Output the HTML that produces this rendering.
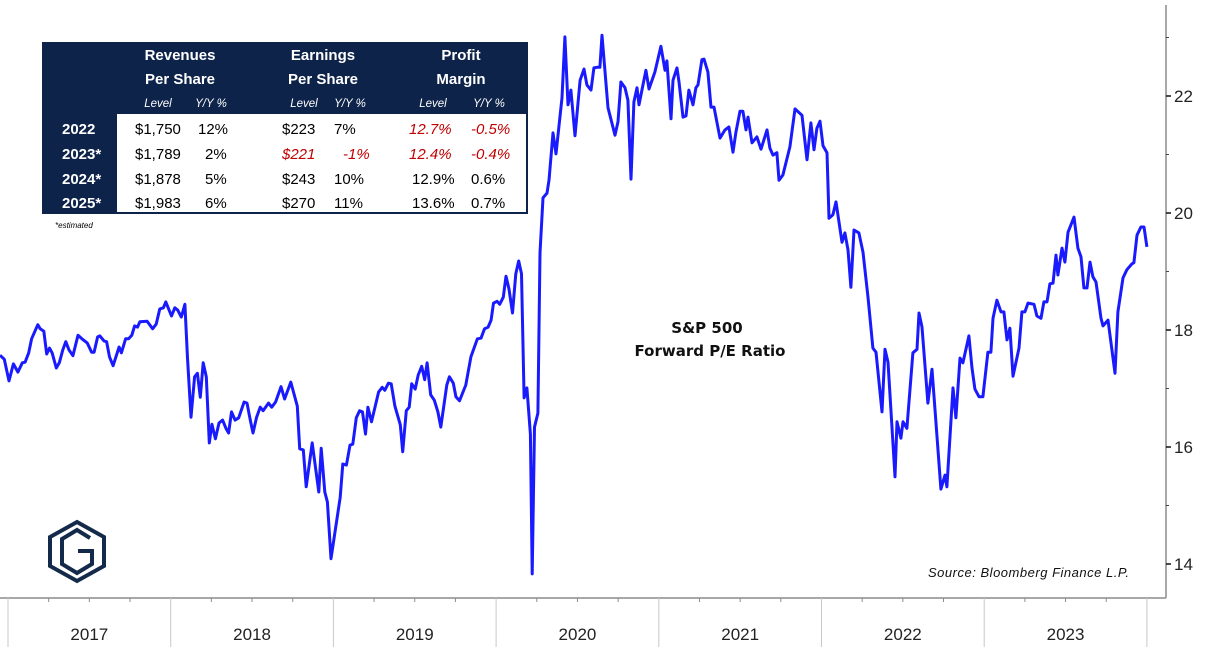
<!DOCTYPE html>
<html><head><meta charset="utf-8">
<style>
body{margin:0;background:#fff;}
svg{display:block;}
.tb{font-family:"Liberation Sans",Arial,sans-serif;}
</style></head>
<body>
<svg id="chart" width="1208" height="647" viewBox="0 0 1208 647" xmlns="http://www.w3.org/2000/svg">
  <rect width="1208" height="647" fill="#fff"/>
  <g id="axes"></g>
  <g id="series"></g>

  <!-- table -->
  <g class="tb">
    <rect x="42" y="42" width="486" height="172" fill="#0d2349"/>
    <rect x="117" y="114" width="409" height="98" fill="#fff"/>
    <g fill="#fff" font-weight="bold" font-size="15" text-anchor="middle">
      <text x="180" y="60">Revenues</text>
      <text x="180" y="84">Per Share</text>
      <text x="323" y="60">Earnings</text>
      <text x="323" y="84">Per Share</text>
      <text x="461" y="60">Profit</text>
      <text x="461" y="84">Margin</text>
    </g>
    <g fill="#fff" font-style="italic" font-size="11.5" text-anchor="middle">
      <text x="158" y="107">Level</text><text x="211" y="107">Y/Y %</text>
      <text x="304" y="107">Level</text><text x="350" y="107">Y/Y %</text>
      <text x="433" y="107">Level</text><text x="489" y="107">Y/Y %</text>
    </g>
    <g fill="#fff" font-weight="bold" font-size="15">
      <text x="62" y="134">2022</text>
      <text x="62" y="159">2023*</text>
      <text x="62" y="184">2024*</text>
      <text x="62" y="208">2025*</text>
    </g>
    <g font-size="15" fill="#000">
      <text x="135" y="134">$1,750</text><text x="198" y="134">12%</text>
      <text x="282" y="134">$223</text><text x="334" y="134">7%</text>
      <text x="409" y="134" fill="#c00000" font-style="italic">12.7%</text><text x="471" y="134" fill="#c00000" font-style="italic">-0.5%</text>
      <text x="135" y="159">$1,789</text><text x="205" y="159">2%</text>
      <text x="282" y="159" fill="#c00000" font-style="italic">$221</text><text x="343" y="159" fill="#c00000" font-style="italic">-1%</text>
      <text x="409" y="159" fill="#c00000" font-style="italic">12.4%</text><text x="471" y="159" fill="#c00000" font-style="italic">-0.4%</text>
      <text x="135" y="184">$1,878</text><text x="205" y="184">5%</text>
      <text x="282" y="184">$243</text><text x="334" y="184">10%</text>
      <text x="412" y="184">12.9%</text><text x="471" y="184">0.6%</text>
      <text x="135" y="208">$1,983</text><text x="205" y="208">6%</text>
      <text x="282" y="208">$270</text><text x="334" y="208">11%</text>
      <text x="412" y="208">13.6%</text><text x="471" y="208">0.7%</text>
    </g>
    <text x="55" y="228" font-size="8" font-style="italic" fill="#000">*estimated</text>
  </g>

  <g font-family="'DejaVu Sans',sans-serif" font-weight="bold" font-size="15" text-anchor="middle" fill="#111">
    <text x="707" y="333">S&amp;P 500</text>
    <text x="710" y="356">Forward P/E Ratio</text>
  </g>
  <text x="928" y="577" font-family="'Liberation Sans',sans-serif" font-style="italic" font-size="13" fill="#111" textLength="201">Source: Bloomberg Finance L.P.</text>

  <g fill="none" stroke="#142a4a" stroke-width="4">
    <polygon points="77,522 104,537 104,566 77,581 50,566 50,537"/>
    <path d="M90,538 L77,530 L62,539 L62,564 L77,573 L92,564 L92,551 L78,551"/>
  </g>
</svg>
<script>
const dates = [2016.951,2016.977,2017.006,2017.033,2017.061,2017.088,2017.105,2017.127,2017.145,2017.183,2017.198,2017.220,2017.238,2017.255,2017.271,2017.297,2017.315,2017.337,2017.355,2017.375,2017.399,2017.430,2017.454,2017.487,2017.514,2017.529,2017.551,2017.564,2017.591,2017.606,2017.624,2017.646,2017.683,2017.697,2017.723,2017.741,2017.761,2017.778,2017.796,2017.811,2017.855,2017.889,2017.911,2017.933,2017.955,2017.970,2018.005,2018.025,2018.043,2018.065,2018.087,2018.103,2018.125,2018.147,2018.164,2018.182,2018.200,2018.219,2018.237,2018.253,2018.275,2018.297,2018.319,2018.341,2018.356,2018.374,2018.396,2018.418,2018.451,2018.469,2018.489,2018.506,2018.528,2018.550,2018.568,2018.601,2018.621,2018.645,2018.678,2018.700,2018.738,2018.778,2018.793,2018.815,2018.833,2018.870,2018.910,2018.925,2018.947,2018.963,2018.985,2019.042,2019.058,2019.080,2019.102,2019.119,2019.141,2019.161,2019.179,2019.197,2019.212,2019.234,2019.278,2019.300,2019.316,2019.338,2019.355,2019.378,2019.411,2019.426,2019.448,2019.466,2019.481,2019.503,2019.521,2019.543,2019.561,2019.576,2019.598,2019.620,2019.642,2019.660,2019.697,2019.713,2019.737,2019.753,2019.775,2019.814,2019.845,2019.885,2019.907,2019.929,2019.951,2019.969,2019.984,2020.006,2020.022,2020.044,2020.061,2020.079,2020.101,2020.121,2020.139,2020.156,2020.172,2020.189,2020.211,2020.222,2020.236,2020.257,2020.270,2020.288,2020.313,2020.325,2020.350,2020.368,2020.405,2020.423,2020.442,2020.460,2020.485,2020.516,2020.540,2020.558,2020.583,2020.601,2020.620,2020.638,2020.651,2020.688,2020.731,2020.749,2020.767,2020.792,2020.810,2020.829,2020.847,2020.866,2020.878,2020.921,2020.940,2020.976,2021.013,2021.038,2021.050,2021.075,2021.087,2021.112,2021.124,2021.149,2021.167,2021.185,2021.210,2021.228,2021.241,2021.265,2021.278,2021.302,2021.321,2021.339,2021.376,2021.407,2021.431,2021.456,2021.474,2021.499,2021.517,2021.536,2021.548,2021.573,2021.603,2021.628,2021.665,2021.683,2021.702,2021.726,2021.739,2021.763,2021.806,2021.837,2021.880,2021.911,2021.935,2021.954,2021.972,2021.991,2022.009,2022.034,2022.046,2022.070,2022.089,2022.126,2022.144,2022.163,2022.181,2022.200,2022.230,2022.255,2022.286,2022.316,2022.335,2022.372,2022.390,2022.409,2022.452,2022.464,2022.488,2022.501,2022.525,2022.562,2022.587,2022.599,2022.618,2022.654,2022.679,2022.734,2022.759,2022.771,2022.808,2022.826,2022.851,2022.869,2022.906,2022.925,2022.943,2022.968,2022.992,2023.023,2023.041,2023.054,2023.078,2023.103,2023.121,2023.140,2023.158,2023.177,2023.214,2023.232,2023.250,2023.269,2023.306,2023.324,2023.349,2023.367,2023.386,2023.404,2023.423,2023.441,2023.453,2023.478,2023.496,2023.515,2023.552,2023.576,2023.595,2023.613,2023.632,2023.650,2023.668,2023.687,2023.718,2023.730,2023.761,2023.804,2023.822,2023.853,2023.877,2023.908,2023.920,2023.939,2023.963,2023.982,2024.000];
const peValues = [17.57,17.50,17.13,17.42,17.28,17.44,17.45,17.61,17.85,18.09,18.02,17.98,17.59,17.69,17.61,17.35,17.44,17.66,17.80,17.66,17.56,17.91,17.85,17.78,17.62,17.62,17.88,17.90,17.81,17.80,17.54,17.39,17.71,17.61,17.85,17.85,17.91,18.07,18.05,18.14,18.15,18.02,18.10,18.36,18.38,18.48,18.24,18.38,18.34,18.22,18.44,17.52,16.51,17.20,17.26,16.85,17.44,17.20,16.07,16.39,16.14,16.41,16.46,16.31,16.24,16.60,16.46,16.50,16.77,16.75,16.46,16.24,16.51,16.68,16.62,16.75,16.68,16.77,17.03,16.82,17.11,16.70,15.97,15.95,15.32,16.07,15.23,15.98,15.23,15.06,14.09,15.14,15.71,15.69,16.03,16.05,16.50,16.62,16.60,16.22,16.68,16.43,16.94,17.02,16.97,17.09,17.08,16.70,16.38,15.92,16.62,16.68,17.08,16.99,17.23,17.38,17.15,17.44,16.89,16.80,16.60,16.34,17.06,17.20,17.09,16.86,16.79,17.06,17.54,17.85,17.86,18.02,18.05,18.17,18.46,18.49,18.44,18.56,18.92,18.70,18.29,18.96,19.18,18.96,16.84,17.01,16.22,13.83,16.34,16.58,19.32,20.26,20.34,20.56,21.37,21.01,21.97,23.01,21.85,22.10,21.32,22.27,22.46,22.19,22.10,22.48,22.49,22.49,23.04,21.80,21.33,21.56,22.24,22.14,21.93,20.58,21.90,22.14,21.85,22.44,22.12,22.41,22.85,22.44,22.60,21.61,22.27,22.48,22.24,21.64,21.66,22.10,21.85,22.14,22.19,22.62,22.63,22.41,21.81,21.81,21.28,21.42,21.47,21.04,21.38,21.74,21.74,21.42,21.64,21.20,21.30,21.09,21.42,21.11,20.99,21.03,20.56,20.65,21.13,21.78,21.67,20.91,21.54,21.08,21.45,21.57,21.15,21.03,19.91,19.97,20.19,19.50,19.66,19.37,18.73,19.71,19.66,19.33,18.56,17.69,17.62,16.60,17.67,17.45,15.49,16.43,16.15,16.43,16.32,17.61,17.67,18.29,18.05,16.75,17.33,15.28,15.52,15.32,17.01,16.50,17.52,17.44,17.90,17.35,16.99,16.86,16.86,17.62,17.62,18.20,18.51,18.31,18.31,17.83,18.03,17.21,17.69,18.31,18.31,18.46,18.44,18.24,18.20,18.48,18.48,18.79,18.80,19.28,18.94,19.40,19.16,19.67,19.93,19.40,19.25,18.72,18.72,19.16,18.91,18.82,18.20,18.07,18.17,17.26,18.31,18.89,19.03,19.13,19.15,19.62,19.76,19.76,19.42];
const yearLabels = ["2017","2018","2019","2020","2021","2022","2023"];
const yTicks = [14,16,18,20,22];
const yMinorTicks = [15,17,19,21,23];

const NS = "http://www.w3.org/2000/svg";
const X0 = 8, PXY = 162.7, AXIS_X = 1166, AXIS_Y = 598;
function xScale(t){ return X0 + (t - 2017) * PXY; }
function yScale(v){ return 213 + (20 - v) * 58.5; }
function mk(tag, attrs, parent){ const e=document.createElementNS(NS,tag); for(const k in attrs) e.setAttribute(k,attrs[k]); parent.appendChild(e); return e; }

const axes = document.getElementById('axes');
const series = document.getElementById('series');

// bottom axis
const xa = mk('line',{x1:0,y1:AXIS_Y,x2:AXIS_X,y2:AXIS_Y,stroke:'#8c8c8c','stroke-width':1.5},axes);


for(let i=0;i<=yearLabels.length;i++){
  const x = xScale(2017+i);
  const s = mk('line',{x1:x,y1:AXIS_Y,x2:x,y2:647,stroke:'#c8c8c8','stroke-width':1},axes);
  
  
  for(let q=1;q<4 && i<yearLabels.length;q++){
    const xm = xScale(2017+i+q/4);
    mk('line',{x1:xm,y1:AXIS_Y,x2:xm,y2:AXIS_Y+4,stroke:'#8c8c8c','stroke-width':1},axes);
  }
}
yearLabels.forEach((lab,i)=>{
  const t = mk('text',{x:xScale(2017+i+0.5),y:640,'text-anchor':'middle','font-family':"'Liberation Sans',sans-serif",'font-size':17,fill:'#222'},axes);
  t.textContent = lab;
  
  
});
// right axis
const ya = mk('line',{x1:AXIS_X,y1:5,x2:AXIS_X,y2:AXIS_Y,stroke:'#8c8c8c','stroke-width':1.5},axes);


yTicks.forEach(v=>{
  const y=yScale(v);
  mk('line',{x1:AXIS_X,y1:y,x2:AXIS_X+5,y2:y,stroke:'#111','stroke-width':1.5},axes);
  const t = mk('text',{x:AXIS_X+8,y:y+6,'font-family':"'Liberation Sans',sans-serif",'font-size':17,fill:'#222'},axes);
  t.textContent = v;
  
  
});
yMinorTicks.forEach(v=>{
  const y=yScale(v);
  mk('line',{x1:AXIS_X,y1:y,x2:AXIS_X+3,y2:y,stroke:'#444','stroke-width':1},axes);
});

// series line
let d='';
dates.forEach((t,i)=>{ d += (i?'L':'M') + xScale(t).toFixed(1) + ',' + yScale(peValues[i]).toFixed(1); });
const path = mk('path',{d:d,fill:'none',stroke:'#1a1aff','stroke-width':3,'stroke-linejoin':'round'},series);


</script>
</body></html>
